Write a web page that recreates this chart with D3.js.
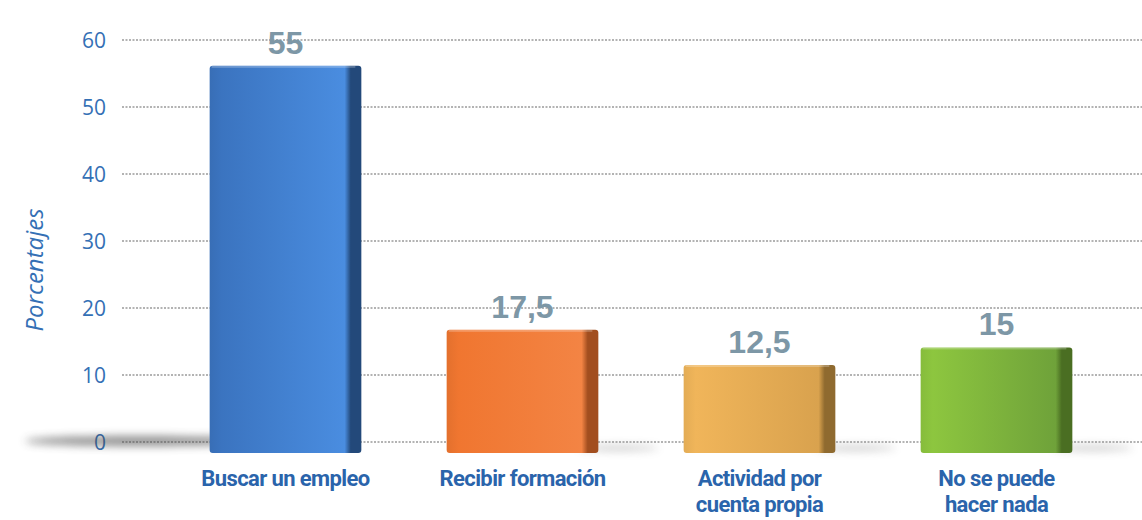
<!DOCTYPE html>
<html lang="en">
<head>
    <meta charset="UTF-8">
    <title>Porcentajes</title>
    <script src="https://d3js.org/d3.v7.min.js"></script>
    <style>
        body { margin: 0; background: #fff; }
        .grid line { stroke: #9a9a9a; stroke-width: 1.3; stroke-dasharray: 2 1.5; }
        .tick-label { font-family: "Open Sans", sans-serif; font-weight: 400; font-size: 21px; fill: #3470b5; text-anchor: end; }
        .y-title { font-family: "Open Sans", sans-serif; font-weight: 400; font-style: italic; font-size: 24px; fill: #3470b5; text-anchor: middle; }
        .value { font-family: "Liberation Sans", Arial, sans-serif; font-weight: bold; font-size: 32px; fill: #7d97a6; text-anchor: middle; }
        .cat { font-family: Roboto, sans-serif; font-weight: bold; font-size: 22px; letter-spacing: -0.6px; fill: #2a64ab; text-anchor: middle; }
    </style>
</head>
<body>
<script>
    const width = 1142;
    const height = 520;

    const categories = [["Buscar un empleo"], ["Recibir formación"], ["Actividad por", "cuenta propia"], ["No se puede", "hacer nada"]];
    const values = [55, 17.5, 12.5, 15];
    const labels = ["55", "17,5", "12,5", "15"];
    const ticks = [0, 10, 20, 30, 40, 50, 60];
    const colors = [
        ["#3b74c0", "#4a8de0", "#23497a"],
        ["#f07630", "#f38444", "#a24e1f"],
        ["#f0b55a", "#d9a24e", "#8f6a2f"],
        ["#8dc63f", "#6fa23a", "#4a6e22"]
    ];

    const svg = d3.select("body").append("svg").attr("width", width).attr("height", height);
    const defs = svg.append("defs");

    // back wall scale (gridlines) and front face scale (3d bars sit a bit lower)
    const y = d3.scaleLinear().domain([0, 60]).range([442, 40]);
    const yFront = d3.scaleLinear().domain([0, 60]).range([453, 30.6]);
    const x = d3.scaleBand().domain(d3.range(values.length)).range([167, 1115]).paddingInner(0.36).paddingOuter(0.18);

    colors.forEach((c, i) => {
        const g = defs.append("linearGradient").attr("id", "g" + i).attr("x1", 0).attr("x2", 1).attr("y1", 0).attr("y2", 0);
        g.append("stop").attr("offset", "0%").attr("stop-color", d3.color(c[0]).darker(0.15));
        g.append("stop").attr("offset", "8%").attr("stop-color", c[0]);
        g.append("stop").attr("offset", "89%").attr("stop-color", c[1]);
        g.append("stop").attr("offset", "93%").attr("stop-color", c[2]);
        g.append("stop").attr("offset", "100%").attr("stop-color", c[2]);
    });

    const blur = defs.append("filter").attr("id", "blur").attr("x", "-20%").attr("y", "-200%").attr("width", "140%").attr("height", "500%");
    blur.append("feGaussianBlur").attr("stdDeviation", 4);

    // gridlines
    svg.append("g").attr("class", "grid")
        .selectAll("line").data(ticks).join("line")
        .attr("x1", 122).attr("x2", width)
        .attr("y1", d => y(d)).attr("y2", d => y(d));

    svg.append("g").selectAll("text").data(ticks).join("text")
        .attr("class", "tick-label")
        .attr("x", 106).attr("y", d => y(d) + 8)
        .text(d => d);

    svg.append("text").attr("class", "y-title")
        .attr("transform", "translate(43,270) rotate(-90)")
        .text("Porcentajes");

    // floor shadows
    svg.append("ellipse").attr("cx", 140).attr("cy", 441).attr("rx", 115).attr("ry", 5)
        .attr("fill", "#444").attr("opacity", 0.6).attr("filter", "url(#blur)");
    svg.append("g").selectAll("ellipse").data(values.slice(1)).join("ellipse")
        .attr("cx", (d, i) => x(i + 1) + x.bandwidth() + 20)
        .attr("cy", 448).attr("rx", 40).attr("ry", 3)
        .attr("fill", "#777").attr("opacity", 0.35).attr("filter", "url(#blur)");

    // bars
    svg.append("g").selectAll("rect").data(values).join("rect")
        .attr("x", (d, i) => x(i))
        .attr("y", d => yFront(d))
        .attr("width", x.bandwidth())
        .attr("height", d => yFront(0) - yFront(d))
        .attr("rx", 3)
        .attr("fill", (d, i) => `url(#g${i})`);

    // top highlight
    svg.append("g").selectAll("rect").data(values).join("rect")
        .attr("x", (d, i) => x(i) + 2)
        .attr("y", d => yFront(d))
        .attr("width", x.bandwidth() - 8)
        .attr("height", 2)
        .attr("fill", "#fff").attr("opacity", 0.25);

    svg.append("g").selectAll("text").data(values).join("text")
        .attr("class", "value")
        .attr("x", (d, i) => x(i) + x.bandwidth() / 2)
        .attr("y", d => yFront(d) - 12)
        .text((d, i) => labels[i]);

    svg.append("g").selectAll("text").data(categories).join("text")
        .attr("class", "cat")
        .attr("x", (d, i) => x(i) + x.bandwidth() / 2)
        .attr("y", 486)
        .selectAll("tspan").data(d => d).join("tspan")
        .attr("x", function() { return this.parentNode.getAttribute("x"); })
        .attr("dy", (d, j) => j === 0 ? 0 : 26)
        .text(d => d);
</script>
</body>
</html>
